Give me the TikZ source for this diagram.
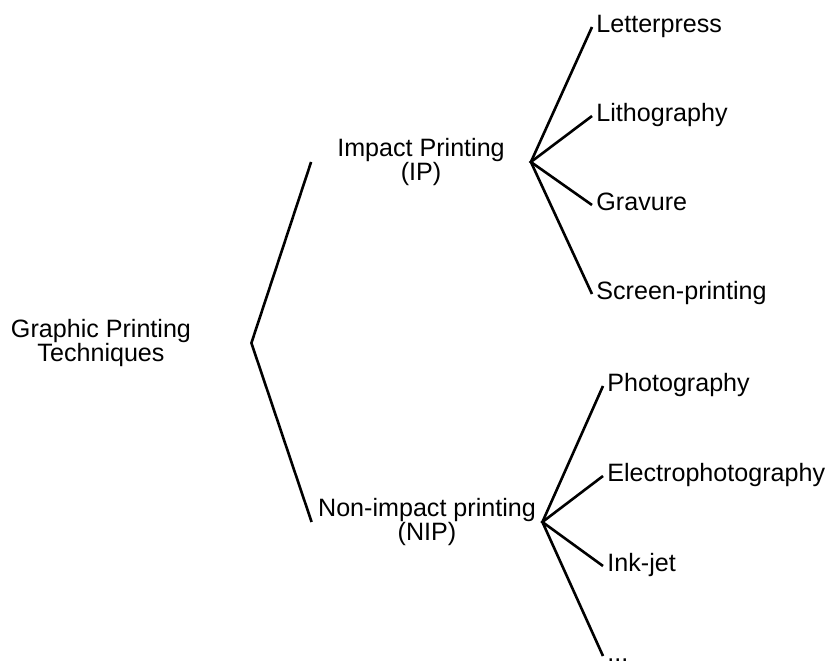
\documentclass[tikz,border=0pt]{standalone}
\usepackage{fontspec}
\setmainfont{Liberation Sans}
\usepackage{tikz}
\usetikzlibrary{positioning}

\tikzset{
    branch/.style={draw=black, line width=1.3bp},
    midnode/.style={align=center, inner xsep=0pt, inner ysep=1pt},
    leafnode/.style={anchor=west, inner xsep=2bp, text height=0.8em, text depth=0.25em}
}

\begin{document}
\begin{tikzpicture}[x=0.5bp, y=-0.5bp, font=\fontsize{12.6}{12.5}\selectfont]
    \useasboundingbox (0,0) rectangle (829,666);

    % Root
    \node[midnode, minimum width=150bp] (gpt) at (101,343) {Graphic Printing\\Techniques};

    % Two families
    \node[midnode, minimum width=109.5bp] (ip) at (421,162) {Impact Printing\\(IP)};
    \node[midnode, minimum width=115bp] (nip) at (427,522) {Non-impact printing\\(NIP)};

    % Impact printing leaves
    \node[leafnode] (letter) at (592,27) {Letterpress};
    \node[leafnode] (litho) at (592,116) {Lithography};
    \node[leafnode] (grav) at (592,205) {Gravure};
    \node[leafnode] (screen) at (592,294) {Screen-printing};

    % Non-impact printing leaves
    \node[leafnode] (photo) at (603,386) {Photography};
    \node[leafnode] (electro) at (603,476) {Electrophotography};
    \node[leafnode] (inkjet) at (603,566) {Ink-jet};
    \node[leafnode] (more) at (603,656) {...};

    % Branches
    \draw[branch] (ip.west) -- (gpt.east) -- (nip.west);
    \draw[branch] (letter.west) -- (ip.east) -- (screen.west);
    \draw[branch] (litho.west) -- (ip.east) -- (grav.west);
    \draw[branch] (photo.west) -- (nip.east) -- (more.west);
    \draw[branch] (electro.west) -- (nip.east) -- (inkjet.west);
\end{tikzpicture}
\end{document}
